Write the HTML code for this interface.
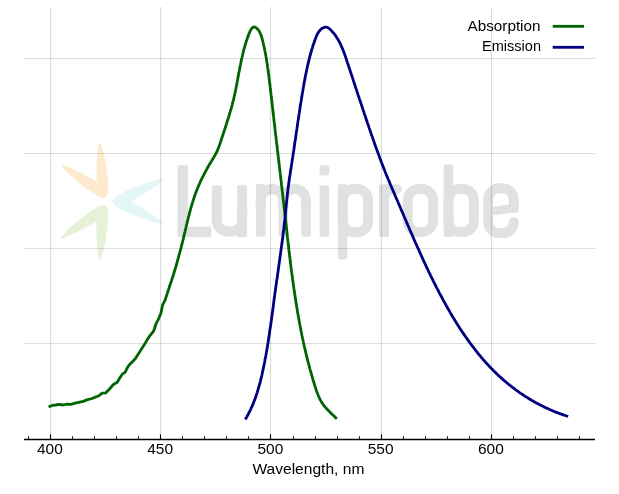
<!DOCTYPE html>
<html><head><meta charset="utf-8"><style>
html,body{margin:0;padding:0;background:#fff;}
svg{display:block;font-family:"Liberation Sans",sans-serif;}
</style></head><body>
<svg width="619" height="494" viewBox="0 0 619 494">
<rect width="619" height="494" fill="#fff"/>

<g transform="translate(108,201.5)" stroke-linejoin="round" stroke-width="1.2">
 <path d="M54.8,-21.6 C46,-21.6 30.5,-15.2 21.3,-11.2 C14.9,-8.4 5.2,-4.5 5.2,0 C5.2,4.5 14.9,8.4 21.3,11.2 C30.5,15.2 46,21.6 54.8,21.6 C44.35,13.65 33.54,6.01 21.7,0 C33.54,-6.01 44.35,-13.65 54.8,-21.6 Z" fill="#e4f6f5" stroke="#e4f6f5"/>
 <path d="M54.8,-21.6 C46,-21.6 30.5,-15.2 21.3,-11.2 C14.9,-8.4 5.2,-4.5 5.2,0 C5.2,4.5 14.9,8.4 21.3,11.2 C30.5,15.2 46,21.6 54.8,21.6 C44.35,13.65 33.54,6.01 21.7,0 C33.54,-6.01 44.35,-13.65 54.8,-21.6 Z" transform="rotate(-120)" fill="#fdeace" stroke="#fdeace"/>
 <path d="M54.8,-21.6 C46,-21.6 30.5,-15.2 21.3,-11.2 C14.9,-8.4 5.2,-4.5 5.2,0 C5.2,4.5 14.9,8.4 21.3,11.2 C30.5,15.2 46,21.6 54.8,21.6 C44.35,13.65 33.54,6.01 21.7,0 C33.54,-6.01 44.35,-13.65 54.8,-21.6 Z" transform="rotate(120)" fill="#e5f2d6" stroke="#e5f2d6"/>
</g>

<g fill="#e0e1e1">
 <rect x="177.6" y="165" width="10.3" height="72.3" rx="2"/>
 <rect x="177.6" y="226.6" width="33.7" height="10.7" rx="1.5"/>
 <rect x="211.8" y="185.2" width="10.1" height="40" rx="2"/>
 <rect x="237.2" y="185.2" width="9.7" height="52.1" rx="2"/>
 <path d="M216.85,205 L216.85,220.4 A11,11 0 0 0 227.85,231.4 L231.2,231.4 A11,11 0 0 0 242.2,220.4 L242.2,205" fill="none" stroke="#e0e1e1" stroke-width="10"/>
 <rect x="255.9" y="184.1" width="9.6" height="52.7" rx="2"/>
 <rect x="278.55" y="198" width="9.6" height="38.8" rx="2"/>
 <rect x="301.2" y="198" width="9.6" height="38.8" rx="2"/>
 <path d="M260.7,208 L260.7,200 A11.3,11 0 0 1 283.35,200 L283.35,208 M283.35,208 L283.35,200 A11.3,11 0 0 1 306,200 L306,208" fill="none" stroke="#e0e1e1" stroke-width="9.8"/>
 <rect x="319.6" y="165.2" width="9.6" height="10.2" rx="2.5"/>
 <rect x="319.6" y="185.5" width="9.6" height="51.3" rx="2"/>
 <rect x="337.8" y="184" width="9.6" height="75.4" rx="3"/>
 <rect x="342.7" y="189" width="25.4" height="43.3" rx="11" fill="none" stroke="#e0e1e1" stroke-width="9.9"/>
 <rect x="379.1" y="184.4" width="9.9" height="52.5" rx="2"/>
 <path d="M384,206 L384,199 C384,192 388.5,189.2 394.5,189.2 L397,189.2" fill="none" stroke="#e0e1e1" stroke-width="9.6" stroke-linecap="round"/>
 <rect x="384" y="184.4" width="5" height="8" />
 <rect x="407.65" y="189" width="25.5" height="43" rx="11.5" fill="none" stroke="#e0e1e1" stroke-width="9.9"/>
 <rect x="443.6" y="164.6" width="9.7" height="72.4" rx="2"/>
 <rect x="448.45" y="189" width="25.45" height="43" rx="11" fill="none" stroke="#e0e1e1" stroke-width="9.8"/>
 <path d="M513.8,208 L513.8,199.3 A11,11 0 0 0 502.8,188.3 L499.2,188.3 A11,11 0 0 0 488.2,199.3 L488.2,222.1 A11,11 0 0 0 499.2,233.1 L502.8,233.1 A11,11 0 0 0 513.8,222.1" fill="none" stroke="#e0e1e1" stroke-width="9.9" stroke-linecap="round"/>
 <path d="M488.2,207.3 L518.2,203.6 L518.2,211.8 L488.2,215.8 Z"/>
</g>
<g stroke="#000" stroke-opacity="0.135" stroke-width="1.2"><line x1="50.5" y1="7" x2="50.5" y2="439" /><line x1="160.5" y1="7" x2="160.5" y2="439" /><line x1="270.5" y1="7" x2="270.5" y2="439" /><line x1="381.5" y1="7" x2="381.5" y2="439" /><line x1="491.5" y1="7" x2="491.5" y2="439" /><line x1="24" y1="58.5" x2="595" y2="58.5" /><line x1="24" y1="153.5" x2="595" y2="153.5" /><line x1="24" y1="248.5" x2="595" y2="248.5" /><line x1="24" y1="343.5" x2="595" y2="343.5" /></g>
<polyline points="48.6,407.0 52.1,405.4 55.7,405.0 59.2,404.4 62.8,405.0 67.2,404.1 70.8,404.4 75.2,403.2 79.7,402.2 83.2,401.4 86.8,399.9 92.1,398.5 95.7,397.0 98.9,395.7 102.2,393.1 105.6,392.9 109.5,389.0 113.4,384.5 117.3,382.3 119.5,378.4 122.3,374.2 125.1,372.3 127.9,366.7 130.6,363.4 135.1,358.9 139.9,351.4 144.7,344.1 148.0,338.4 150.4,335.2 153.6,331.2 155.7,324.7 158.5,319.0 160.9,313.3 162.5,305.2 165.0,300.4 167.4,293.1 169.8,285.8 170.1,284.7 170.5,283.6 170.9,282.6 171.2,281.5 171.6,280.4 171.9,279.3 172.3,278.2 172.6,277.2 173.0,276.1 173.3,275.0 173.7,273.9 174.0,272.8 174.3,271.7 174.7,270.6 175.0,269.5 175.3,268.5 175.7,267.4 176.0,266.3 176.3,265.2 176.6,264.1 176.9,263.0 177.2,261.9 177.5,260.8 177.8,259.7 178.1,258.6 178.4,257.5 178.7,256.4 179.0,255.3 179.3,254.2 179.6,253.1 179.9,252.0 180.2,250.9 180.5,249.8 180.8,248.7 181.1,247.6 181.3,246.5 181.6,245.4 181.9,244.3 182.2,243.2 182.5,242.1 182.7,241.0 183.0,239.9 183.3,238.8 183.5,237.7 183.8,236.5 184.1,235.4 184.3,234.3 184.6,233.2 184.9,232.1 185.1,231.0 185.4,229.9 185.7,228.8 185.9,227.7 186.2,226.6 186.4,225.5 186.7,224.4 187.0,223.3 187.2,222.2 187.5,221.1 187.8,220.0 188.0,218.9 188.3,217.8 188.6,216.7 188.9,215.6 189.2,214.5 189.4,213.4 189.7,212.3 190.0,211.2 190.3,210.1 190.6,209.0 190.9,207.9 191.2,206.8 191.6,205.7 191.9,204.6 192.2,203.5 192.5,202.4 192.9,201.4 193.2,200.3 193.6,199.2 193.9,198.1 194.3,197.1 194.7,196.0 195.0,194.9 195.4,193.8 195.8,192.8 196.2,191.7 196.6,190.6 197.0,189.6 197.5,188.5 197.9,187.5 198.3,186.4 198.8,185.4 199.2,184.3 199.7,183.3 200.2,182.2 200.6,181.2 201.1,180.2 201.6,179.1 202.1,178.1 202.6,177.1 203.1,176.1 203.6,175.0 204.2,174.0 204.7,173.0 205.2,172.0 205.8,171.0 206.3,170.0 206.9,169.0 207.4,168.0 208.0,167.0 208.5,166.0 209.1,165.0 209.7,164.0 210.3,163.1 210.9,162.1 211.5,161.1 212.0,160.2 212.6,159.2 213.2,158.2 213.8,157.3 214.4,156.3 215.0,155.3 215.5,154.3 216.0,153.3 216.5,152.3 217.0,151.3 217.5,150.3 217.9,149.2 218.3,148.2 218.8,147.1 219.1,146.0 219.5,145.0 219.9,143.9 220.3,142.8 220.6,141.7 221.0,140.6 221.3,139.5 221.7,138.5 222.0,137.4 222.4,136.3 222.8,135.2 223.1,134.1 223.5,133.0 223.8,132.0 224.2,130.9 224.5,129.8 224.9,128.7 225.3,127.6 225.6,126.6 226.0,125.5 226.3,124.4 226.7,123.3 227.0,122.2 227.3,121.1 227.7,120.1 228.0,119.0 228.4,117.9 228.7,116.8 229.0,115.7 229.4,114.6 229.7,113.5 230.0,112.5 230.3,111.4 230.6,110.3 231.0,109.2 231.3,108.1 231.6,107.0 231.9,105.9 232.2,104.8 232.4,103.7 232.7,102.6 233.0,101.5 233.3,100.4 233.6,99.3 233.8,98.2 234.1,97.1 234.3,96.0 234.6,94.8 234.8,93.7 235.1,92.6 235.3,91.5 235.5,90.4 235.8,89.3 236.0,88.1 236.2,87.0 236.4,85.9 236.6,84.8 236.9,83.7 237.1,82.5 237.3,81.4 237.5,80.3 237.7,79.2 237.9,78.0 238.1,76.9 238.3,75.8 238.5,74.7 238.7,73.5 238.9,72.4 239.2,71.3 239.4,70.2 239.6,69.1 239.8,67.9 240.0,66.8 240.2,65.7 240.5,64.6 240.7,63.5 240.9,62.4 241.1,61.3 241.4,60.2 241.6,59.1 241.9,58.0 242.1,56.9 242.4,55.8 242.6,54.7 242.9,53.6 243.2,52.5 243.4,51.4 243.7,50.3 244.0,49.2 244.3,48.1 244.6,47.0 244.9,46.0 245.2,44.9 245.6,43.8 245.9,42.7 246.2,41.6 246.6,40.5 247.0,39.4 247.3,38.3 247.7,37.2 248.1,36.1 248.5,35.0 249.0,33.9 249.4,32.8 249.9,31.6 250.4,30.6 251.0,29.5 251.7,28.5 252.5,27.7 253.3,27.1 254.1,26.9 255.0,27.1 255.9,27.6 256.7,28.2 257.5,29.0 258.2,29.8 258.9,30.6 259.4,31.6 259.9,32.6 260.4,33.6 260.8,34.6 261.2,35.7 261.6,36.8 261.9,37.9 262.2,39.1 262.5,40.2 262.8,41.4 263.1,42.5 263.3,43.6 263.6,44.8 263.8,45.9 264.1,47.0 264.3,48.2 264.6,49.3 264.8,50.4 265.0,51.5 265.3,52.7 265.5,53.8 265.7,54.9 265.9,56.1 266.1,57.2 266.3,58.3 266.5,59.4 266.7,60.6 266.8,61.7 267.0,62.8 267.2,63.9 267.4,65.0 267.5,66.2 267.7,67.3 267.8,68.4 268.0,69.5 268.1,70.6 268.3,71.8 268.4,72.9 268.6,74.0 268.7,75.1 268.9,76.3 269.0,77.4 269.1,78.5 269.3,79.6 269.4,80.7 269.6,81.9 269.7,83.0 269.8,84.1 270.0,85.2 270.1,86.4 270.2,87.5 270.4,88.6 270.5,89.7 270.6,90.9 270.7,92.0 270.9,93.1 271.0,94.2 271.1,95.4 271.3,96.5 271.4,97.6 271.5,98.8 271.7,99.9 271.8,101.0 271.9,102.1 272.1,103.3 272.2,104.4 272.3,105.5 272.4,106.7 272.6,107.8 272.7,108.9 272.8,110.1 273.0,111.2 273.1,112.3 273.2,113.5 273.4,114.6 273.5,115.7 273.6,116.9 273.8,118.0 273.9,119.1 274.0,120.3 274.1,121.4 274.3,122.5 274.4,123.7 274.5,124.8 274.7,125.9 274.8,127.1 274.9,128.2 275.1,129.3 275.2,130.5 275.3,131.6 275.4,132.7 275.6,133.9 275.7,135.0 275.8,136.1 276.0,137.3 276.1,138.4 276.2,139.5 276.4,140.7 276.5,141.8 276.6,142.9 276.8,144.1 276.9,145.2 277.0,146.3 277.2,147.5 277.3,148.6 277.4,149.7 277.6,150.8 277.7,152.0 277.8,153.1 278.0,154.2 278.1,155.4 278.2,156.5 278.4,157.6 278.5,158.8 278.6,159.9 278.8,161.0 278.9,162.2 279.0,163.3 279.2,164.4 279.3,165.5 279.4,166.7 279.6,167.8 279.7,168.9 279.8,170.1 280.0,171.2 280.1,172.3 280.2,173.4 280.4,174.6 280.5,175.7 280.6,176.8 280.8,178.0 280.9,179.1 281.0,180.2 281.2,181.4 281.3,182.5 281.4,183.6 281.5,184.7 281.7,185.9 281.8,187.0 281.9,188.1 282.1,189.3 282.2,190.4 282.3,191.5 282.5,192.6 282.6,193.8 282.7,194.9 282.9,196.0 283.0,197.2 283.1,198.3 283.2,199.4 283.4,200.5 283.5,201.7 283.6,202.8 283.8,203.9 283.9,205.1 284.0,206.2 284.1,207.3 284.3,208.5 284.4,209.6 284.5,210.7 284.6,211.8 284.8,213.0 284.9,214.1 285.0,215.2 285.2,216.4 285.3,217.5 285.4,218.6 285.5,219.8 285.7,220.9 285.8,222.0 285.9,223.2 286.0,224.3 286.2,225.4 286.3,226.5 286.4,227.7 286.5,228.8 286.7,229.9 286.8,231.1 286.9,232.2 287.0,233.3 287.2,234.5 287.3,235.6 287.4,236.7 287.6,237.9 287.7,239.0 287.8,240.1 287.9,241.2 288.1,242.4 288.2,243.5 288.3,244.6 288.5,245.8 288.6,246.9 288.7,248.0 288.8,249.2 289.0,250.3 289.1,251.4 289.2,252.6 289.4,253.7 289.5,254.8 289.6,255.9 289.8,257.1 289.9,258.2 290.1,259.3 290.2,260.5 290.3,261.6 290.5,262.7 290.6,263.9 290.8,265.0 290.9,266.1 291.0,267.2 291.2,268.4 291.3,269.5 291.5,270.6 291.6,271.8 291.8,272.9 291.9,274.0 292.1,275.2 292.2,276.3 292.4,277.4 292.5,278.5 292.7,279.7 292.8,280.8 293.0,281.9 293.1,283.1 293.3,284.2 293.4,285.3 293.6,286.4 293.8,287.6 293.9,288.7 294.1,289.8 294.3,290.9 294.4,292.1 294.6,293.2 294.8,294.3 294.9,295.5 295.1,296.6 295.3,297.7 295.4,298.8 295.6,300.0 295.8,301.1 296.0,302.2 296.1,303.3 296.3,304.4 296.5,305.6 296.7,306.7 296.9,307.8 297.1,308.9 297.2,310.1 297.4,311.2 297.6,312.3 297.8,313.4 298.0,314.5 298.2,315.7 298.4,316.8 298.6,317.9 298.8,319.0 299.0,320.1 299.2,321.3 299.4,322.4 299.6,323.5 299.8,324.6 300.1,325.7 300.3,326.9 300.5,328.0 300.7,329.1 300.9,330.2 301.1,331.3 301.4,332.4 301.6,333.6 301.8,334.7 302.0,335.8 302.3,336.9 302.5,338.0 302.7,339.1 303.0,340.2 303.2,341.3 303.5,342.5 303.7,343.6 304.0,344.7 304.2,345.8 304.5,346.9 304.7,348.0 305.0,349.1 305.2,350.2 305.5,351.3 305.7,352.4 306.0,353.5 306.3,354.6 306.5,355.7 306.8,356.8 307.1,358.0 307.4,359.1 307.6,360.2 307.9,361.3 308.2,362.4 308.5,363.5 308.8,364.6 309.1,365.7 309.4,366.8 309.6,367.9 309.9,369.0 310.2,370.1 310.5,371.1 310.9,372.2 311.2,373.3 311.5,374.4 311.8,375.5 312.1,376.6 312.4,377.7 312.7,378.8 313.1,379.9 313.4,381.0 313.7,382.1 314.1,383.2 314.4,384.3 314.7,385.4 315.1,386.4 315.4,387.5 315.8,388.6 316.1,389.7 316.5,390.8 316.9,391.9 317.3,392.9 317.7,394.0 318.1,395.1 318.5,396.1 319.0,397.2 319.4,398.2 319.9,399.2 320.5,400.2 321.0,401.2 321.6,402.1 322.2,403.1 322.8,404.0 323.5,404.9 324.2,405.8 324.9,406.7 325.7,407.6 326.4,408.5 327.2,409.3 328.0,410.2 328.8,411.0 329.6,411.8 330.4,412.6 331.2,413.4 332.0,414.2 332.8,415.0 333.7,415.8 334.5,416.6 335.3,417.4 336.1,418.1 336.8,418.9" fill="none" stroke="#006400" stroke-width="2.8" stroke-linejoin="round" stroke-linecap="butt"/>
<polyline points="245.3,419.5 246.0,418.2 246.8,416.9 247.5,415.6 248.2,414.3 248.9,413.0 249.5,411.7 250.2,410.4 250.8,409.0 251.4,407.7 252.0,406.4 252.6,405.0 253.2,403.7 253.7,402.3 254.2,400.9 254.8,399.6 255.3,398.2 255.8,396.8 256.2,395.4 256.7,394.0 257.2,392.6 257.6,391.2 258.0,389.8 258.4,388.4 258.8,387.0 259.2,385.6 259.6,384.2 260.0,382.8 260.4,381.3 260.7,379.9 261.1,378.5 261.4,377.1 261.8,375.6 262.1,374.2 262.4,372.8 262.7,371.3 263.0,369.9 263.3,368.4 263.6,367.0 263.9,365.6 264.2,364.1 264.5,362.7 264.8,361.2 265.0,359.8 265.3,358.3 265.6,356.9 265.9,355.4 266.1,354.0 266.4,352.6 266.6,351.1 266.9,349.7 267.1,348.2 267.4,346.8 267.6,345.3 267.8,343.9 268.1,342.4 268.3,341.0 268.5,339.5 268.7,338.1 269.0,336.6 269.2,335.2 269.4,333.7 269.6,332.2 269.8,330.8 270.0,329.3 270.3,327.9 270.5,326.4 270.7,325.0 270.9,323.5 271.1,322.1 271.3,320.6 271.5,319.2 271.7,317.7 271.9,316.2 272.1,314.8 272.3,313.3 272.5,311.9 272.7,310.4 272.9,309.0 273.1,307.5 273.3,306.1 273.5,304.6 273.6,303.1 273.8,301.7 274.0,300.2 274.2,298.8 274.4,297.3 274.6,295.9 274.8,294.4 275.0,293.0 275.2,291.5 275.4,290.0 275.6,288.6 275.8,287.1 276.0,285.7 276.2,284.2 276.4,282.8 276.6,281.3 276.8,279.9 277.1,278.4 277.3,276.9 277.5,275.5 277.7,274.0 277.9,272.6 278.1,271.1 278.3,269.7 278.5,268.2 278.7,266.8 278.9,265.3 279.1,263.9 279.3,262.4 279.5,260.9 279.7,259.5 279.9,258.0 280.1,256.6 280.3,255.1 280.5,253.7 280.7,252.2 280.9,250.8 281.1,249.3 281.3,247.9 281.5,246.4 281.7,244.9 281.9,243.5 282.1,242.0 282.3,240.6 282.5,239.1 282.7,237.7 282.9,236.2 283.0,234.7 283.2,233.3 283.4,231.8 283.6,230.4 283.8,228.9 283.9,227.4 284.1,226.0 284.3,224.5 284.4,223.1 284.6,221.6 284.8,220.1 284.9,218.7 285.1,217.2 285.2,215.7 285.4,214.3 285.5,212.8 285.7,211.4 285.8,209.9 285.9,208.4 286.1,207.0 286.2,205.5 286.4,204.0 286.5,202.6 286.7,201.1 286.8,199.6 287.0,198.2 287.1,196.7 287.3,195.3 287.4,193.8 287.6,192.3 287.8,190.9 287.9,189.4 288.1,188.0 288.3,186.5 288.5,185.1 288.7,183.6 288.9,182.2 289.1,180.7 289.3,179.3 289.5,177.8 289.7,176.4 290.0,174.9 290.2,173.5 290.4,172.0 290.6,170.6 290.9,169.1 291.1,167.7 291.3,166.2 291.5,164.8 291.8,163.3 292.0,161.9 292.2,160.4 292.4,159.0 292.7,157.5 292.9,156.1 293.1,154.6 293.3,153.2 293.5,151.7 293.8,150.3 294.0,148.8 294.2,147.3 294.4,145.9 294.6,144.4 294.8,143.0 295.0,141.5 295.3,140.1 295.5,138.6 295.7,137.1 295.9,135.7 296.1,134.2 296.3,132.8 296.5,131.3 296.8,129.8 297.0,128.4 297.2,126.9 297.4,125.5 297.6,124.0 297.8,122.5 298.0,121.1 298.3,119.6 298.5,118.2 298.7,116.7 298.9,115.3 299.1,113.8 299.4,112.3 299.6,110.9 299.8,109.4 300.0,108.0 300.2,106.5 300.5,105.1 300.7,103.6 300.9,102.2 301.2,100.7 301.4,99.3 301.6,97.8 301.9,96.4 302.1,94.9 302.3,93.5 302.6,92.0 302.8,90.6 303.1,89.2 303.3,87.7 303.6,86.3 303.8,84.8 304.1,83.4 304.3,82.0 304.6,80.5 304.9,79.1 305.1,77.7 305.4,76.2 305.7,74.8 306.0,73.4 306.3,72.0 306.6,70.5 306.9,69.1 307.2,67.7 307.5,66.3 307.8,64.8 308.1,63.4 308.5,62.0 308.8,60.6 309.2,59.1 309.5,57.7 309.9,56.3 310.3,54.8 310.7,53.4 311.1,52.0 311.5,50.6 311.9,49.1 312.4,47.7 312.8,46.3 313.3,44.8 313.8,43.4 314.3,42.0 314.8,40.5 315.3,39.1 315.8,37.6 316.4,36.2 317.0,34.8 317.7,33.5 318.5,32.3 319.3,31.1 320.2,30.0 321.3,29.0 322.4,28.2 323.7,27.6 324.9,27.2 326.2,27.2 327.4,27.5 328.6,28.1 329.7,29.0 330.8,30.0 331.8,31.1 332.8,32.2 333.8,33.4 334.7,34.5 335.6,35.7 336.4,37.0 337.2,38.2 338.0,39.5 338.7,40.7 339.4,42.0 340.1,43.3 340.7,44.7 341.3,46.0 341.9,47.3 342.5,48.7 343.0,50.0 343.6,51.4 344.1,52.8 344.6,54.2 345.1,55.6 345.6,57.0 346.0,58.4 346.5,59.8 347.0,61.2 347.4,62.6 347.9,64.0 348.4,65.4 348.8,66.8 349.3,68.2 349.8,69.6 350.2,71.0 350.7,72.4 351.1,73.8 351.6,75.1 352.1,76.5 352.5,77.9 353.0,79.3 353.4,80.7 353.9,82.1 354.4,83.5 354.8,84.9 355.3,86.3 355.7,87.7 356.2,89.1 356.7,90.5 357.1,91.9 357.6,93.3 358.0,94.7 358.5,96.1 359.0,97.5 359.4,98.9 359.9,100.3 360.4,101.6 360.8,103.0 361.3,104.4 361.7,105.8 362.2,107.2 362.7,108.6 363.1,110.0 363.6,111.4 364.1,112.8 364.5,114.2 365.0,115.6 365.5,117.0 365.9,118.3 366.4,119.7 366.9,121.1 367.3,122.5 367.8,123.9 368.3,125.3 368.8,126.7 369.2,128.1 369.7,129.5 370.2,130.8 370.7,132.2 371.1,133.6 371.6,135.0 372.1,136.4 372.6,137.8 373.1,139.2 373.6,140.6 374.0,141.9 374.5,143.3 375.0,144.7 375.5,146.1 376.0,147.5 376.5,148.9 377.0,150.2 377.5,151.6 378.0,153.0 378.5,154.4 379.0,155.8 379.5,157.1 380.0,158.5 380.5,159.9 381.1,161.3 381.6,162.7 382.1,164.0 382.6,165.4 383.2,166.8 383.7,168.1 384.3,169.5 384.8,170.9 385.3,172.2 385.9,173.6 386.4,175.0 387.0,176.3 387.6,177.7 388.1,179.0 388.7,180.4 389.3,181.7 389.8,183.1 390.4,184.5 391.0,185.8 391.6,187.2 392.1,188.5 392.7,189.9 393.3,191.2 393.9,192.6 394.5,193.9 395.0,195.3 395.6,196.6 396.2,198.0 396.8,199.3 397.4,200.7 397.9,202.0 398.5,203.4 399.1,204.7 399.7,206.1 400.3,207.4 400.8,208.8 401.4,210.1 402.0,211.5 402.6,212.8 403.2,214.2 403.7,215.5 404.3,216.9 404.9,218.2 405.5,219.6 406.1,220.9 406.6,222.3 407.2,223.6 407.8,225.0 408.4,226.3 409.0,227.7 409.5,229.0 410.1,230.4 410.7,231.7 411.3,233.1 411.9,234.4 412.5,235.7 413.0,237.1 413.6,238.4 414.2,239.8 414.8,241.1 415.4,242.5 416.0,243.8 416.6,245.2 417.2,246.5 417.8,247.8 418.4,249.2 419.0,250.5 419.6,251.9 420.2,253.2 420.8,254.5 421.4,255.9 422.0,257.2 422.6,258.5 423.2,259.9 423.8,261.2 424.5,262.5 425.1,263.9 425.7,265.2 426.3,266.5 426.9,267.9 427.6,269.2 428.2,270.5 428.8,271.8 429.5,273.2 430.1,274.5 430.7,275.8 431.4,277.1 432.0,278.4 432.7,279.7 433.3,281.1 434.0,282.4 434.7,283.7 435.3,285.0 436.0,286.3 436.6,287.6 437.3,288.9 438.0,290.2 438.7,291.5 439.3,292.8 440.0,294.1 440.7,295.4 441.4,296.7 442.1,298.0 442.8,299.3 443.5,300.6 444.2,301.9 444.9,303.2 445.6,304.5 446.3,305.8 447.1,307.0 447.8,308.3 448.5,309.6 449.3,310.9 450.0,312.2 450.7,313.4 451.5,314.7 452.2,316.0 453.0,317.2 453.8,318.5 454.5,319.8 455.3,321.0 456.1,322.3 456.8,323.5 457.6,324.8 458.4,326.0 459.2,327.2 460.0,328.5 460.8,329.7 461.6,330.9 462.4,332.2 463.3,333.4 464.1,334.6 464.9,335.8 465.8,337.0 466.6,338.2 467.5,339.4 468.3,340.6 469.2,341.8 470.0,343.0 470.9,344.2 471.8,345.4 472.7,346.5 473.6,347.7 474.5,348.9 475.4,350.0 476.3,351.2 477.2,352.3 478.1,353.5 479.0,354.6 480.0,355.7 480.9,356.8 481.9,358.0 482.8,359.1 483.8,360.2 484.7,361.3 485.7,362.4 486.7,363.5 487.7,364.5 488.7,365.6 489.7,366.7 490.7,367.7 491.7,368.8 492.7,369.8 493.8,370.9 494.8,371.9 495.9,372.9 496.9,373.9 498.0,375.0 499.0,376.0 500.1,376.9 501.2,377.9 502.3,378.9 503.4,379.9 504.5,380.8 505.6,381.8 506.8,382.7 507.9,383.7 509.0,384.6 510.2,385.5 511.3,386.4 512.5,387.3 513.7,388.2 514.8,389.1 516.0,390.0 517.2,390.9 518.4,391.7 519.6,392.6 520.8,393.4 522.1,394.2 523.3,395.0 524.5,395.9 525.8,396.7 527.0,397.4 528.3,398.2 529.5,399.0 530.8,399.8 532.0,400.5 533.3,401.2 534.6,402.0 535.9,402.7 537.2,403.4 538.5,404.1 539.8,404.8 541.1,405.4 542.4,406.1 543.7,406.7 545.0,407.4 546.4,408.0 547.7,408.6 549.0,409.2 550.4,409.8 551.7,410.4 553.1,411.0 554.4,411.5 555.8,412.1 557.2,412.6 558.5,413.1 559.9,413.6 561.3,414.1 562.7,414.6 564.1,415.1 565.4,415.5 566.8,416.0 568.2,416.4" fill="none" stroke="#000080" stroke-width="2.8" stroke-linejoin="round" stroke-linecap="butt"/>
<line x1="24" y1="439.45" x2="595" y2="439.45" stroke="#000" stroke-width="1.45"/>
<g stroke="#000"><line x1="28.5" y1="436" x2="28.5" y2="439.5" stroke-width="0.8"/><line x1="50.5" y1="434.3" x2="50.5" y2="439.5" stroke-width="1.1"/><line x1="72.5" y1="436" x2="72.5" y2="439.5" stroke-width="0.8"/><line x1="94.5" y1="436" x2="94.5" y2="439.5" stroke-width="0.8"/><line x1="116.5" y1="436" x2="116.5" y2="439.5" stroke-width="0.8"/><line x1="138.5" y1="436" x2="138.5" y2="439.5" stroke-width="0.8"/><line x1="160.5" y1="434.3" x2="160.5" y2="439.5" stroke-width="1.1"/><line x1="182.5" y1="436" x2="182.5" y2="439.5" stroke-width="0.8"/><line x1="204.5" y1="436" x2="204.5" y2="439.5" stroke-width="0.8"/><line x1="226.5" y1="436" x2="226.5" y2="439.5" stroke-width="0.8"/><line x1="248.5" y1="436" x2="248.5" y2="439.5" stroke-width="0.8"/><line x1="270.5" y1="434.3" x2="270.5" y2="439.5" stroke-width="1.1"/><line x1="293.5" y1="436" x2="293.5" y2="439.5" stroke-width="0.8"/><line x1="315.5" y1="436" x2="315.5" y2="439.5" stroke-width="0.8"/><line x1="337.5" y1="436" x2="337.5" y2="439.5" stroke-width="0.8"/><line x1="359.5" y1="436" x2="359.5" y2="439.5" stroke-width="0.8"/><line x1="381.5" y1="434.3" x2="381.5" y2="439.5" stroke-width="1.1"/><line x1="403.5" y1="436" x2="403.5" y2="439.5" stroke-width="0.8"/><line x1="425.5" y1="436" x2="425.5" y2="439.5" stroke-width="0.8"/><line x1="447.5" y1="436" x2="447.5" y2="439.5" stroke-width="0.8"/><line x1="469.5" y1="436" x2="469.5" y2="439.5" stroke-width="0.8"/><line x1="491.5" y1="434.3" x2="491.5" y2="439.5" stroke-width="1.1"/><line x1="513.5" y1="436" x2="513.5" y2="439.5" stroke-width="0.8"/><line x1="535.5" y1="436" x2="535.5" y2="439.5" stroke-width="0.8"/><line x1="557.5" y1="436" x2="557.5" y2="439.5" stroke-width="0.8"/><line x1="579.5" y1="436" x2="579.5" y2="439.5" stroke-width="0.8"/></g>
<g font-size="14" fill="#000" style="will-change:opacity" opacity="0.999"><text x="49.9" y="454" text-anchor="middle" textLength="25.8" lengthAdjust="spacingAndGlyphs">400</text><text x="160.1" y="454" text-anchor="middle" textLength="25.8" lengthAdjust="spacingAndGlyphs">450</text><text x="270.4" y="454" text-anchor="middle" textLength="25.8" lengthAdjust="spacingAndGlyphs">500</text><text x="380.6" y="454" text-anchor="middle" textLength="25.8" lengthAdjust="spacingAndGlyphs">550</text><text x="490.9" y="454" text-anchor="middle" textLength="25.8" lengthAdjust="spacingAndGlyphs">600</text>
<text x="308.4" y="473.5" text-anchor="middle" textLength="112" lengthAdjust="spacingAndGlyphs">Wavelength, nm</text>
<text x="540.5" y="31" text-anchor="end" textLength="73" lengthAdjust="spacingAndGlyphs">Absorption</text>
<text x="541" y="51.2" text-anchor="end" textLength="59" lengthAdjust="spacingAndGlyphs">Emission</text>
</g>
<line x1="552.7" y1="26.3" x2="584" y2="26.3" stroke="#006400" stroke-width="2.8"/>
<line x1="552.7" y1="47.3" x2="584" y2="47.3" stroke="#000080" stroke-width="2.8"/>
</svg>
</body></html>
